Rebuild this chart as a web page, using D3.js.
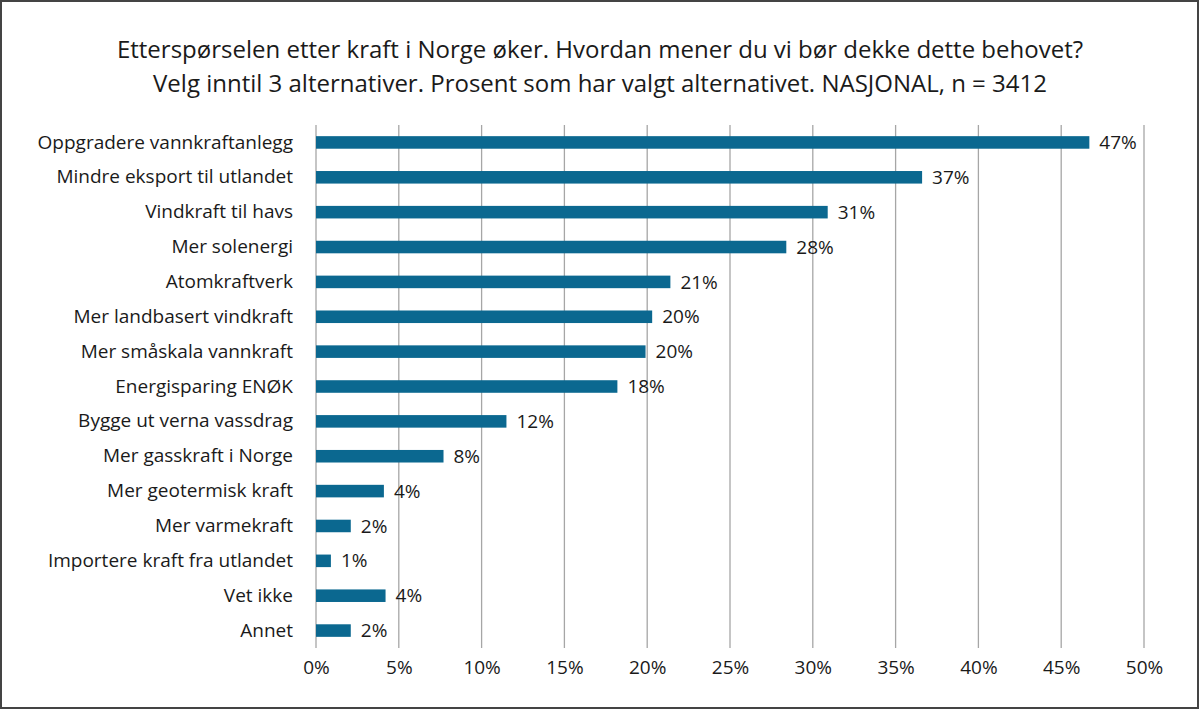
<!DOCTYPE html>
<html><head><meta charset="utf-8">
<script src="https://cdn.jsdelivr.net/npm/d3@7"></script>
<style>
html,body{margin:0;padding:0;background:#fff;}
svg text{font-family:"Open Sans","Noto Sans",sans-serif;fill:#1a1a1a;}
</style></head>
<body>
<svg id="c" width="1200" height="710"></svg>
<script>
const categories = ["Oppgradere vannkraftanlegg","Mindre eksport til utlandet","Vindkraft til havs","Mer solenergi","Atomkraftverk","Mer landbasert vindkraft","Mer småskala vannkraft","Energisparing ENØK","Bygge ut verna vassdrag","Mer gasskraft i Norge","Mer geotermisk kraft","Mer varmekraft","Importere kraft fra utlandet","Vet ikke","Annet"];
const values = [46.7,36.6,30.9,28.4,21.4,20.3,19.9,18.2,11.5,7.7,4.1,2.1,0.9,4.2,2.1];
const valueLabels = ["47%","37%","31%","28%","21%","20%","20%","18%","12%","8%","4%","2%","1%","4%","2%"];
const ticks = [0,5,10,15,20,25,30,35,40,45,50];
const titleLines = ["Etterspørselen etter kraft i Norge øker. Hvordan mener du vi bør dekke dette behovet?","Velg inntil 3 alternativer. Prosent som har valgt alternativet. NASJONAL, n = 3412"];

const svg = d3.select("#c");
svg.append("rect").attr("x",1).attr("y",1).attr("width",1197).attr("height",707)
  .attr("fill","#fff").attr("stroke","#444").attr("stroke-width",2);

svg.selectAll("text.title").data(titleLines).join("text")
  .attr("class","title").attr("x",600).attr("y",(d,i)=>58+i*34)
  .attr("text-anchor","middle").style("font-size","24px").style("font-weight","500").text(d=>d);

const x = d3.scaleLinear().domain([0,50]).range([316,1144]);
const y = d3.scaleBand().domain(categories).range([125,648]).paddingInner(0.64).paddingOuter(0.32);

svg.append("g").selectAll("line").data(ticks).join("line")
  .attr("x1",d=>x(d)).attr("x2",d=>x(d)).attr("y1",125).attr("y2",648)
  .attr("stroke","#a6a6a6").attr("stroke-width",1.3);

const xAxis = svg.append("g").attr("transform","translate(0,648)")
  .call(d3.axisBottom(x).tickValues(ticks).tickFormat(d=>d+"%").tickSize(0).tickPadding(13));
xAxis.select(".domain").remove();
xAxis.selectAll("text").style("font-size","19px").style("fill","#1a1a1a").style("font-family","'Open Sans',sans-serif");

const yAxis = svg.append("g").attr("transform","translate(316,0)")
  .call(d3.axisLeft(y).tickSize(0).tickPadding(23));
yAxis.select(".domain").remove();
yAxis.selectAll("text").style("font-size","19px").style("fill","#1a1a1a").style("font-family","'Open Sans',sans-serif");

svg.append("g").selectAll("rect").data(categories).join("rect")
  .attr("x",x(0)).attr("y",d=>y(d)).attr("height",y.bandwidth())
  .attr("width",(d,i)=>x(values[i])-x(0)).attr("fill","#0b6890");

svg.append("g").selectAll("text").data(categories).join("text")
  .attr("x",(d,i)=>x(values[i])+10).attr("y",d=>y(d)+y.bandwidth()/2)
  .attr("dy","0.35em").style("font-size","19px").text((d,i)=>valueLabels[i]);
</script>
</body></html>
